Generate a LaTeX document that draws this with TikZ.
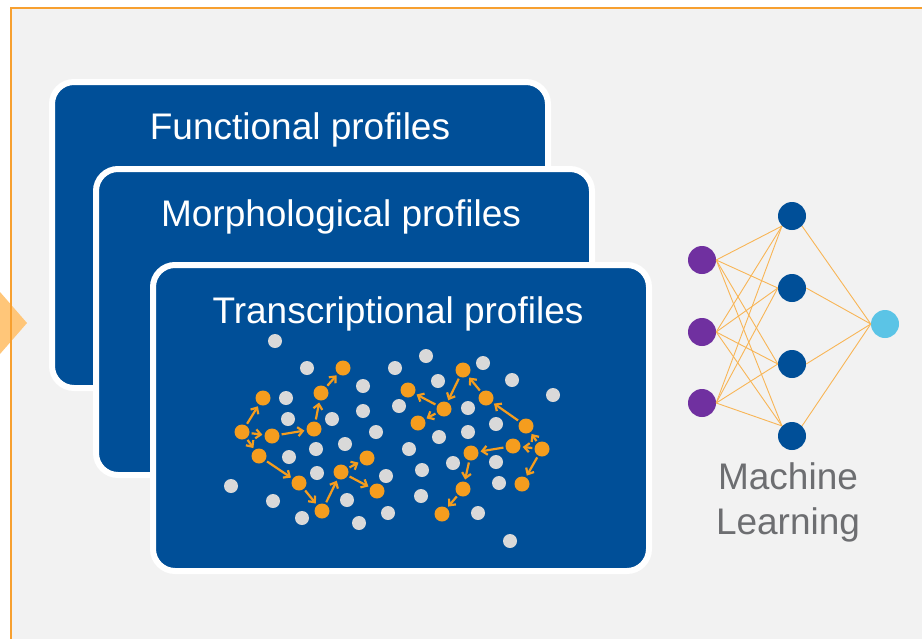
\documentclass[tikz,border=0pt]{standalone}
\usepackage{fontspec}
\setmainfont{Liberation Sans}
\usetikzlibrary{arrows.meta}

\definecolor{cardblue}{HTML}{004F98}
\definecolor{dotorange}{HTML}{F59D1E}
\definecolor{dotgray}{HTML}{D9D9D9}
\definecolor{netpurple}{HTML}{7030A0}
\definecolor{netcyan}{HTML}{5BC4E6}
\definecolor{panelgray}{HTML}{F2F2F2}
\definecolor{frameorange}{HTML}{F7A030}
\definecolor{paleorange}{HTML}{FFC679}
\definecolor{labelgray}{HTML}{6D6E71}

\tikzset{
    card/.style={draw=white, line width=6pt, fill=cardblue, rounded corners=22pt,
        minimum width=496pt, minimum height=306pt, inner sep=0pt},
    cardtitle/.style={text=white, font=\fontsize{37}{44}\selectfont, anchor=base},
    odot/.style={circle, fill=dotorange, minimum size=15pt, inner sep=0pt},
    gdot/.style={circle, fill=dotgray, minimum size=14pt, inner sep=0pt},
    walk/.style={-{Straight Barb[length=5pt, width=9pt]}, draw=dotorange, line width=2.2pt,
        shorten >=2pt, shorten <=2pt},
    neuron/.style={circle, minimum size=28pt, inner sep=0pt},
    synapse/.style={draw=dotorange!75, line width=0.9pt},
}

\begin{document}
\begin{tikzpicture}[x=1pt, y=-1pt]
            \useasboundingbox (0,0) rectangle (922,638);
            \fill[white] (0,0) rectangle (922,638);

            % Panel and incoming arrow
            \fill[panelgray] (11,8) rectangle (940,660);
            \fill[paleorange] (0,292) -- (27,323) -- (0,354) -- cycle;
            \draw[frameorange, line width=2pt] (11,660) -- (11,8) -- (940,8);

            % Profile cards
            \node[card] (c1) at (300,235) {};
            \node[cardtitle] (t1) at ([yshift=-60pt]c1.north) {Functional profiles};
            \node[card] (c2) at (344,322) {};
            \node[cardtitle] (t2) at ([xshift=-3pt, yshift=-60pt]c2.north) {Morphological profiles};
            \node[card] (c3) at (401,418) {};
            \node[cardtitle] (t3) at ([xshift=-3pt, yshift=-61pt]c3.north) {Transcriptional profiles};

            % Gray genes
            \foreach \x/\y [count=\k] in {275/341, 307/368, 363/386, 286/398, 288/419, 332/419,
                363/411, 376/432, 289/457, 316/449, 345/444, 231/486, 317/473, 386/476,
                273/501, 347/500, 302/518, 359/523, 388/513, 426/356, 395/368, 483/363,
                438/381, 512/380, 553/395, 399/406, 468/408, 496/424, 439/437, 468/432,
                409/449, 453/463, 496/462, 422/470, 499/483, 421/496, 478/513, 510/541}
                \node[gdot] (g\k) at (\x,\y) {};

            % Orange genes, left module
            \node[odot] (a1) at (242,432) {};
            \node[odot] (a2) at (263,398) {};
            \node[odot] (a3) at (272,436) {};
            \node[odot] (a4) at (259,456) {};
            \node[odot] (a5) at (314,429) {};
            \node[odot] (a6) at (321,393) {};
            \node[odot] (a7) at (343,368) {};
            \node[odot] (a8) at (299,483) {};
            \node[odot] (a9) at (322,511) {};
            \node[odot] (a10) at (341,472) {};
            \node[odot] (a11) at (367,458) {};
            \node[odot] (a12) at (377,491) {};

            % Orange genes, right module
            \node[odot] (b1) at (463,370) {};
            \node[odot] (b2) at (444,409) {};
            \node[odot] (b3) at (408,390) {};
            \node[odot] (b4) at (418,423) {};
            \node[odot] (b5) at (486,398) {};
            \node[odot] (b6) at (526,426) {};
            \node[odot] (b7) at (542,449) {};
            \node[odot] (b8) at (513,446) {};
            \node[odot] (b9) at (471,453) {};
            \node[odot] (b10) at (522,484) {};
            \node[odot] (b11) at (463,489) {};
            \node[odot] (b12) at (442,514) {};

            % Regulation arrows
            \draw[walk] (a1) -- (a2);
            \draw[walk] (a1) -- (a3);
            \draw[walk] (a1) -- (a4);
            \draw[walk] (a3) -- (a5);
            \draw[walk] (a5) -- (a6);
            \draw[walk] (a6) -- (a7);
            \draw[walk] (a4) -- (a8);
            \draw[walk] (a8) -- (a9);
            \draw[walk] (a9) -- (a10);
            \draw[walk] (a10) -- (a11);
            \draw[walk] (a10) -- (a12);
            \draw[walk] (b1) -- (b2);
            \draw[walk] (b2) -- (b3);
            \draw[walk] (b2) -- (b4);
            \draw[walk] (b5) -- (b1);
            \draw[walk] (b6) -- (b5);
            \draw[walk] (b7) -- (b6);
            \draw[walk] (b7) -- (b8);
            \draw[walk] (b8) -- (b9);
            \draw[walk] (b7) -- (b10);
            \draw[walk] (b9) -- (b11);
            \draw[walk] (b11) -- (b12);

            % Network
            \node[neuron, fill=netpurple] (i1) at (702,260) {};
            \node[neuron, fill=netpurple] (i2) at (702,332) {};
            \node[neuron, fill=netpurple] (i3) at (702,403) {};
            \node[neuron, fill=cardblue] (h1) at (792,216) {};
            \node[neuron, fill=cardblue] (h2) at (792,288) {};
            \node[neuron, fill=cardblue] (h3) at (792,364) {};
            \node[neuron, fill=cardblue] (h4) at (792,436) {};
            \node[neuron, fill=netcyan] (o) at (885,324) {};

            \foreach \i in {1,2,3} {
                \draw[synapse] (i\i.east) -- (h1.south west);
                \draw[synapse] (i\i.east) -- (h2.west);
                \draw[synapse] (i\i.east) -- (h3.west);
                \draw[synapse] (i\i.east) -- (h4.north west);
            }
            \draw[synapse] (h1.south east) -- (o.west);
            \draw[synapse] (h2.east) -- (o.west);
            \draw[synapse] (h3.east) -- (o.west);
            \draw[synapse] (h4.north east) -- (o.west);

            \node[text=labelgray, font=\fontsize{37}{45}\selectfont, align=center, anchor=base]
                (ml) at (788,534) {Machine\\Learning};
        \end{tikzpicture}
\end{document}
